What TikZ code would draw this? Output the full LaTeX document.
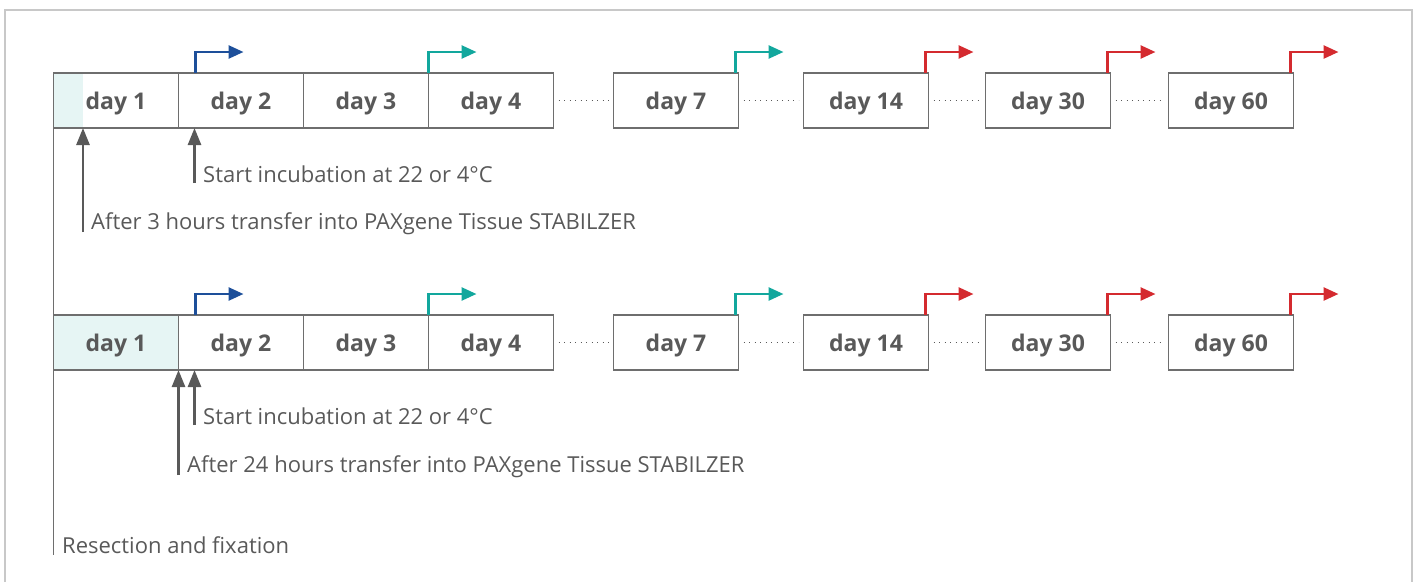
\documentclass[tikz,border=0pt]{standalone}
\usepackage{fontspec}
\setmainfont{Open Sans}
\usepackage{tikz}
\usetikzlibrary{arrows.meta}
\usetikzlibrary{positioning}
\usetikzlibrary{backgrounds}
\definecolor{txtgray}{HTML}{595959}
\definecolor{boxgray}{HTML}{6E6E6E}
\definecolor{framegray}{HTML}{C8C8C8}
\definecolor{fixcyan}{HTML}{E6F5F4}
\definecolor{goblue}{HTML}{1D4F9A}
\definecolor{goteal}{HTML}{12A79D}
\definecolor{gored}{HTML}{D42A2F}
\tikzset{
  daybox/.style={draw=boxgray, line width=1.3pt, minimum width=125pt,
    minimum height=55pt, inner sep=0pt, outer sep=0pt, text=txtgray,
    text height=18pt, text depth=0pt,
    font=\bfseries\fontsize{23}{27}\selectfont},
  note/.style={anchor=base west, inner sep=0pt, text=txtgray,
    font=\fontsize{22}{26}\selectfont},
  gap/.style={txtgray, line width=1.2pt, dash pattern=on 1.2pt off 4.3pt},
  up/.style={txtgray, line width=2.6pt, -{Triangle[length=17pt,width=13pt]}},
  go/.style={#1, line width=2.6pt, -{Triangle[length=15pt,width=13pt]}},
}
\begin{document}
\begin{tikzpicture}[x=1pt,y=-1pt]
  \useasboundingbox (0,0) rectangle (1416,582);
  \draw[framegray, line width=2pt] (5,582) -- (5,10) -- (1412,10) -- (1412,582);

  % first row: 3 hours
  \node[daybox] (a1) at (116,100.5) {day 1};
  \node[daybox, right=0pt of a1] (a2) {day 2};
  \node[daybox, right=0pt of a2] (a3) {day 3};
  \node[daybox, right=0pt of a3] (a4) {day 4};
  \node[daybox, right=60pt of a4] (a7) {day 7};
  \node[daybox, right=65pt of a7] (a14) {day 14};
  \node[daybox, right=57pt of a14] (a30) {day 30};
  \node[daybox, right=58pt of a30] (a60) {day 60};
  \begin{scope}[on background layer]
    \fill[fixcyan] (a1.north west) rectangle ([xshift=29pt]a1.south west);
  \end{scope}

  \draw[gap] ([xshift=5pt]a4.east) -- ([xshift=-5pt]a7.west);
  \draw[gap] ([xshift=5pt]a7.east) -- ([xshift=-5pt]a14.west);
  \draw[gap] ([xshift=5pt]a14.east) -- ([xshift=-5pt]a30.west);
  \draw[gap] ([xshift=5pt]a30.east) -- ([xshift=-5pt]a60.west);

  \draw[go=goblue] ([xshift=17pt]a2.north west) |- ++(48pt,21pt);
  \draw[go=goteal] (a4.north west) |- ++(48pt,21pt);
  \draw[go=goteal] ([xshift=-3pt]a7.north east) |- ++(48pt,21pt);
  \draw[go=gored] ([xshift=-3pt]a14.north east) |- ++(48pt,21pt);
  \draw[go=gored] ([xshift=-3pt]a30.north east) |- ++(48pt,21pt);
  \draw[go=gored] ([xshift=-3pt]a60.north east) |- ++(48pt,21pt);

  \coordinate (sa) at (194.5,183);
  \coordinate (ta) at (83,232);
  \node[note] (sa-txt) at (203,182) {Start incubation at 22 or 4°C};
  \node[note] (ta-txt) at (91,229) {After 3 hours transfer into PAXgene Tissue STABILZER};
  \draw[up] (sa) -- (sa |- a2.south);
  \draw[up] (ta) -- (ta |- a1.south);

  % second row: 24 hours
  \node[daybox, fill=fixcyan] (b1) at (116,342.5) {day 1};
  \node[daybox, right=0pt of b1] (b2) {day 2};
  \node[daybox, right=0pt of b2] (b3) {day 3};
  \node[daybox, right=0pt of b3] (b4) {day 4};
  \node[daybox, right=60pt of b4] (b7) {day 7};
  \node[daybox, right=65pt of b7] (b14) {day 14};
  \node[daybox, right=57pt of b14] (b30) {day 30};
  \node[daybox, right=58pt of b30] (b60) {day 60};

  \draw[gap] ([xshift=5pt]b4.east) -- ([xshift=-5pt]b7.west);
  \draw[gap] ([xshift=5pt]b7.east) -- ([xshift=-5pt]b14.west);
  \draw[gap] ([xshift=5pt]b14.east) -- ([xshift=-5pt]b30.west);
  \draw[gap] ([xshift=5pt]b30.east) -- ([xshift=-5pt]b60.west);

  \draw[go=goblue] ([xshift=17pt]b2.north west) |- ++(48pt,21pt);
  \draw[go=goteal] (b4.north west) |- ++(48pt,21pt);
  \draw[go=goteal] ([xshift=-3pt]b7.north east) |- ++(48pt,21pt);
  \draw[go=gored] ([xshift=-3pt]b14.north east) |- ++(48pt,21pt);
  \draw[go=gored] ([xshift=-3pt]b30.north east) |- ++(48pt,21pt);
  \draw[go=gored] ([xshift=-3pt]b60.north east) |- ++(48pt,21pt);

  \coordinate (sb) at (194.5,425);
  \coordinate (tb) at (b1.south east |- 0,475);
  \node[note] (sb-txt) at (203,424) {Start incubation at 22 or 4°C};
  \node[note] (tb-txt) at (187,472) {After 24 hours transfer into PAXgene Tissue STABILZER};
  \draw[up] (sb) -- (sb |- b2.south);
  \draw[up] (tb) -- (b1.south east);

  % resection
  \coordinate (rs) at (a1.south west |- 0,555);
  \node[note] (rs-txt) at (62,553) {Resection and fixation};
  \draw[boxgray, line width=1.6pt] (a1.south west) -- (rs);
\end{tikzpicture}
\end{document}
